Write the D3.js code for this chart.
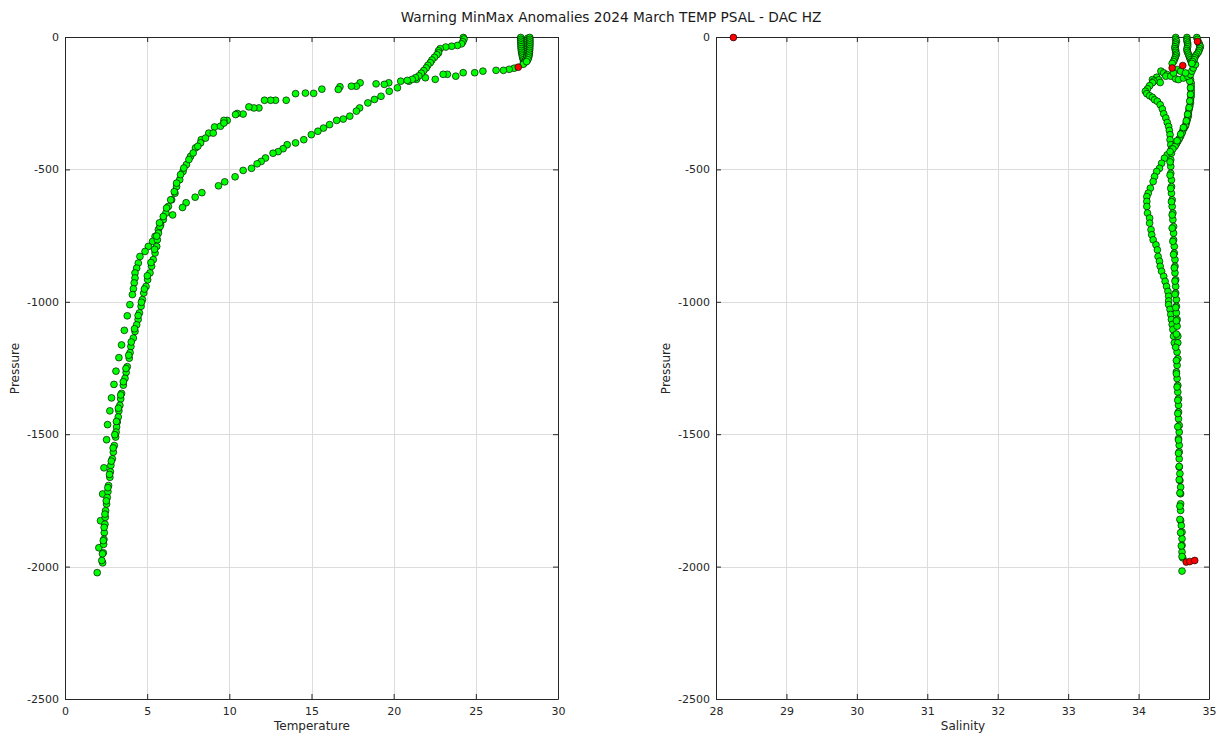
<!DOCTYPE html>
<html><head><meta charset="utf-8">
<script src="https://cdn.jsdelivr.net/npm/d3@7"></script>
<style>
html,body{margin:0;padding:0;background:#fff;}
svg{display:block;font-family:"DejaVu Sans",sans-serif;}
</style></head><body>
<svg id="chart" width="1222" height="734"></svg>
<script>
// ---------------- text ----------------
const titleText = "Warning MinMax Anomalies 2024 March TEMP PSAL - DAC HZ";
const tempXTicks = [0, 5, 10, 15, 20, 25, 30];
const salXTicks = [28, 29, 30, 31, 32, 33, 34, 35];
const presTicks = [0, -500, -1000, -1500, -2000, -2500];

// ---------------- temperature tracks ----------------
const tSurf1P = [0,-7,-14,-21,-28,-35,-42,-49,-56,-63,-70,-77,-84,-91,-98];
const tSurf1T = [27.70,27.70,27.71,27.71,27.72,27.72,27.73,27.74,27.76,27.78,27.80,27.83,27.86,27.88,27.86];
const tSurf2P = [-3,-10,-17,-24,-31,-38,-45,-52,-59,-66,-73,-80,-87,-94,-101];
const tSurf2T = [28.12,28.12,28.12,28.13,28.13,28.13,28.12,28.12,28.11,28.10,28.07,28.04,28.00,27.95,27.86];
const tSurf3P = [0,-7,-14,-21,-28,-35,-42,-49,-56,-63,-70,-77,-84,-91];
const tSurf3T = [28.25,28.26,28.26,28.26,28.26,28.25,28.25,28.24,28.23,28.22,28.20,28.17,28.13,28.06];

const tShelfP = [-116,-120,-124,-124,-127,-133,-133,-139,-139,-146,-152,-158,-158,-165,-165];
const tShelfT = [27.30,27.00,26.65,26.20,25.40,24.90,24.20,23.24,22.98,23.75,21.90,22.50,21.36,20.90,20.40];

const tWarmP = [0,-6,-16,-24,-30,-33,-36,-42,-50,-58,-65,-75,-85,-95,-105,-115,-125,-135,-145,-152,-158,-162];
const tWarmT = [24.21,24.25,24.18,24.10,23.85,23.50,23.14,22.80,22.70,22.70,22.60,22.45,22.30,22.20,22.05,21.95,21.80,21.65,21.50,21.30,21.10,20.80];

const tUpperP = [-171,-177,-175,-171,-184,-184,-186,-196,-195,-211,-210,-212,-237,-237,-237,-237,-266,-266,-262,-289,-287,-291,-313,-313,-323];
const tUpperT = [19.67,19.40,18.90,17.93,17.70,17.40,16.70,16.60,15.60,15.10,14.60,14.00,13.43,12.78,12.48,12.11,11.77,11.46,11.16,10.81,10.45,10.35,9.84,9.64,9.64];

const tLowerP = [-190,-203,-222,-234,-247,-266,-278,-297,-308,-313,-329,-342,-354,-367,-386,-398,-405,-420,-431,-437,-455,-468,-477,-494,-502,-526,-545,-560,-586,-603,-624,-642,-670];
const tLowerT = [20.20,19.70,19.20,18.80,18.40,17.90,17.70,17.30,16.90,16.50,16.07,15.70,15.36,14.96,14.50,14.00,13.49,13.24,12.94,12.63,12.17,11.91,11.66,11.32,10.81,10.32,9.69,9.31,8.30,7.89,7.34,7.12,6.52];

const tDeepLP = [-338,-361,-386,-417,-449,-480,-506,-537,-563,-588,-613,-638,-663,-688,-707,-726,-751,-770,-789,-808,-827,-852,-871,-889,-908,-927,-949,-971,-1009,-1051,-1106,-1161,-1209,-1260,-1310,-1361,-1410,-1462,-1519,-1625,-1724,-1825,-1927,-2021];
const tDeepLT = [9.07,8.72,8.26,7.91,7.61,7.36,7.15,6.95,6.76,6.66,6.46,6.26,6.11,5.95,5.79,5.65,5.45,5.30,5.04,4.84,4.53,4.43,4.33,4.23,4.23,4.18,4.13,4.07,3.92,3.76,3.58,3.41,3.25,3.07,2.95,2.80,2.70,2.56,2.50,2.34,2.26,2.13,2.03,1.93];

const tDeepRP = [-335,-361,-380,-398,-411,-436,-461,-493,-518,-550,-582,-613,-644,-676,-714,-739,-764,-789,-814,-839,-864,-889,-915,-940,-965,-990,-1015,-1040,-1065,-1085,-1110,-1135,-1167,-1190,-1211,-1243,-1265,-1287,-1313,-1344,-1365,-1389,-1410,-1433,-1452,-1471,-1490,-1509,-1541,-1566,-1591,-1616,-1640,-1661,-1692,-1715,-1737,-1762,-1787,-1812,-1838,-1870,-1895,-1914,-1946,-1984];
const tDeepRT = [9.43,8.99,8.52,8.22,8.05,7.77,7.51,7.20,7.00,6.76,6.62,6.40,6.15,5.95,5.75,5.65,5.59,5.55,5.45,5.34,5.24,5.14,5.00,4.90,4.76,4.68,4.60,4.50,4.42,4.33,4.23,4.13,3.98,3.93,3.88,3.76,3.69,3.62,3.52,3.41,3.36,3.31,3.25,3.21,3.15,3.11,3.08,3.05,2.97,2.91,2.85,2.76,2.73,2.70,2.62,2.58,2.54,2.50,2.44,2.42,2.40,2.36,2.34,2.32,2.30,2.26];

const tDeepR2P = [-700,-750,-800,-850,-900,-950,-1000,-1050,-1100,-1150,-1200,-1250,-1300,-1350,-1400,-1450,-1500,-1550,-1600,-1650,-1700,-1750,-1800,-1850,-1900,-1950,-1975];
const tDeepR2T = [5.72,5.55,5.42,5.20,4.98,4.80,4.62,4.42,4.20,4.00,3.85,3.68,3.52,3.36,3.22,3.10,3.00,2.90,2.79,2.68,2.58,2.48,2.40,2.35,2.30,2.25,2.21];

const tFlagP = [-112];
const tFlagT = [27.55];

// ---------------- salinity tracks ----------------
const sSurf1P = [0,-7,-14,-21,-28,-35,-42,-49,-56,-63,-70,-77,-84,-91,-98];
const sSurf1S = [34.52,34.52,34.53,34.52,34.52,34.51,34.51,34.52,34.52,34.53,34.52,34.51,34.50,34.49,34.47];
const sSurf2P = [0,-7,-14,-21,-28,-35,-42,-49,-56,-63,-70,-77,-84,-91,-98];
const sSurf2S = [34.68,34.68,34.68,34.69,34.69,34.69,34.68,34.68,34.69,34.70,34.71,34.72,34.73,34.74,34.75];
const sSurf3P = [0,-7,-21,-28,-35,-42,-49,-56,-63,-70,-77,-84,-91,-98];
const sSurf3S = [34.82,34.83,34.85,34.86,34.87,34.86,34.85,34.84,34.82,34.80,34.79,34.78,34.76,34.75];

const sClusterP = [-127,-134,-140,-146,-146,-156,-159,-153,-146,-140,-127,-115,-102,-121,-127,-134,-134];
const sClusterS = [34.31,34.35,34.40,34.38,34.45,34.52,34.56,34.63,34.69,34.73,34.75,34.77,34.80,34.54,34.59,34.66,34.49];

const sHookP = [-150,-160,-170,-159,-165,-171,-182,-194,-203,-212,-220,-226,-235,-241,-254,-270,-288,-304,-321,-336,-351,-367,-386,-405,-421];
const sHookS = [34.25,34.28,34.30,34.19,34.21,34.19,34.15,34.12,34.09,34.11,34.15,34.19,34.22,34.26,34.30,34.33,34.35,34.38,34.40,34.42,34.43,34.44,34.44,34.45,34.46];

const sUpperP = [-159,-172,-184,-197,-209,-222,-235,-247,-260,-272,-285,-295,-304,-314,-323,-333,-342,-352,-361,-373,-383,-392,-402,-411,-421,-431];
const sUpperS = [34.73,34.74,34.74,34.74,34.74,34.74,34.73,34.73,34.72,34.71,34.70,34.70,34.69,34.68,34.67,34.66,34.64,34.62,34.61,34.59,34.57,34.55,34.53,34.51,34.48,34.44];
const sUpper2P = [-165,-190,-215,-240,-265,-290,-315,-340,-365,-390];
const sUpper2S = [34.72,34.73,34.73,34.72,34.71,34.69,34.67,34.63,34.59,34.54];

const sBulgeP = [-443,-456,-475,-494,-506,-525,-544,-569,-588,-601,-619,-638,-663,-682,-701,-726,-745,-764,-783,-802,-827,-845,-864,-883,-902,-921,-940,-959,-977,-995,-1009,-1027,-1046,-1065,-1084,-1103,-1128,-1153];
const sBulgeS = [34.40,34.36,34.32,34.29,34.25,34.22,34.20,34.16,34.13,34.11,34.11,34.11,34.12,34.15,34.15,34.17,34.18,34.20,34.24,34.26,34.27,34.29,34.30,34.32,34.35,34.37,34.39,34.41,34.42,34.42,34.42,34.44,34.45,34.46,34.47,34.48,34.49,34.50];

const sVertP = [-437,-462,-487,-513,-538,-563,-588,-613,-638,-663,-688,-714,-739,-764,-789,-814,-839,-864,-889,-915,-940,-965,-990,-1015,-1040,-1065,-1090,-1128,-1153,-1188,-1213,-1238,-1263,-1288,-1314,-1339,-1364,-1389,-1414,-1440,-1465,-1490,-1515,-1540,-1565,-1591,-1622,-1647,-1673,-1698,-1723,-1761,-1786,-1824,-1843,-1868,-1893,-1918,-1943,-1965,-2015];
const sVertS = [34.46,34.45,34.45,34.45,34.46,34.46,34.46,34.47,34.47,34.48,34.48,34.49,34.49,34.49,34.50,34.50,34.51,34.51,34.51,34.52,34.52,34.52,34.53,34.53,34.53,34.54,34.54,34.55,34.55,34.54,34.55,34.54,34.53,34.54,34.55,34.55,34.56,34.56,34.56,34.56,34.57,34.57,34.56,34.57,34.57,34.57,34.57,34.58,34.58,34.59,34.59,34.59,34.59,34.59,34.60,34.61,34.61,34.61,34.61,34.62,34.61];
const sVert2P = [-470,-520,-570,-620,-670,-720,-770,-820,-870,-920,-970,-1020,-1070,-1120,-1170,-1220,-1270,-1320,-1370,-1420,-1470,-1520,-1570,-1620,-1670,-1720,-1770,-1820,-1870,-1920,-1960];
const sVert2S = [34.44,34.44,34.45,34.46,34.47,34.47,34.48,34.49,34.50,34.51,34.51,34.52,34.53,34.53,34.52,34.53,34.53,34.54,34.55,34.55,34.55,34.56,34.56,34.57,34.57,34.58,34.58,34.58,34.59,34.60,34.61];

const sFlagP = [0,-15,-115,-106,-1981,-1979,-1975];
const sFlagS = [28.24,34.83,34.47,34.62,34.67,34.72,34.79];

// ---------------- drawing ----------------
const svg = d3.select('#chart');
const INK = '#262626';
const GRID = '#dcdcdc';
const R = 3.4;
const SW = 0.65;
svg.append('rect').attr('width',1222).attr('height',734).attr('fill','#fff');

svg.append('text').attr('x',611).attr('y',22).attr('text-anchor','middle')
  .attr('font-size',13.7).attr('fill','#1a1a1a').text(titleText);

function zip(P, V) {
  const n = Math.min(P.length, V.length);
  const out = [];
  for (let i = 0; i < n; i++) out.push({p: P[i], v: V[i]});
  return out;
}

function panel(o) {
  const x = d3.scaleLinear().domain(o.domain).range([o.x0, o.x1]);
  const y = d3.scaleLinear().domain([-2500, 0]).range([699, 37]);
  const g = svg.append('g');

  // grid
  g.selectAll('line.vg').data(o.xticks.slice(1, -1)).enter().append('line')
    .attr('x1', d => Math.round(x(d)) + 0.5).attr('x2', d => Math.round(x(d)) + 0.5)
    .attr('y1', 37.5).attr('y2', 699.5).attr('stroke', GRID).attr('stroke-width', 1);
  g.selectAll('line.hg').data(presTicks.slice(1, -1)).enter().append('line')
    .attr('y1', d => Math.round(y(d)) + 0.5).attr('y2', d => Math.round(y(d)) + 0.5)
    .attr('x1', o.x0 + 0.5).attr('x2', o.x1 + 0.5).attr('stroke', GRID).attr('stroke-width', 1);

  // axes (ticks inward)
  const fmt = d => String(d);
  const bottom = g.append('g').attr('transform', `translate(0,699)`)
    .call(d3.axisBottom(x).tickValues(o.xticks).tickSizeInner(-5).tickSizeOuter(0).tickPadding(8).tickFormat(fmt));
  const top = g.append('g').attr('transform', `translate(0,37)`)
    .call(d3.axisTop(x).tickValues(o.xticks).tickSizeInner(-5).tickSizeOuter(0).tickFormat(''));
  const left = g.append('g').attr('transform', `translate(${o.x0},0)`)
    .call(d3.axisLeft(y).tickValues(presTicks).tickSizeInner(-5).tickSizeOuter(0).tickPadding(6).tickFormat(fmt));
  const right = g.append('g').attr('transform', `translate(${o.x1},0)`)
    .call(d3.axisRight(y).tickValues(presTicks).tickSizeInner(-5).tickSizeOuter(0).tickFormat(''));
  [bottom, top, left, right].forEach(a => {
    a.select('.domain').attr('stroke', INK);
    a.selectAll('.tick line').attr('stroke', INK);
    a.selectAll('.tick text').attr('fill', INK).attr('font-size', 11)
      .attr('font-family', '"DejaVu Sans",sans-serif');
  });

  // labels
  g.append('text').attr('x', (o.x0 + o.x1) / 2 + 0.5).attr('y', 730).attr('text-anchor', 'middle')
    .attr('font-size', 12).attr('fill', INK).text(o.xlabel);
  g.append('text').attr('transform', `translate(${o.x0 - 46.5},368.5) rotate(-90)`)
    .attr('text-anchor', 'middle').attr('font-size', 12).attr('fill', INK).text('Pressure');

  // points
  const pts = g.append('g');
  o.tracks.forEach(t => {
    pts.selectAll(null).data(zip(t[0], t[1])).enter().append('circle')
      .attr('cx', d => x(d.v) + 0.5).attr('cy', d => y(d.p) + 0.5).attr('r', R)
      .attr('fill', '#00ff00').attr('stroke', '#000').attr('stroke-width', SW);
  });
  pts.selectAll(null).data(zip(o.flags[0], o.flags[1])).enter().append('circle')
    .attr('cx', d => x(d.v) + 0.5).attr('cy', d => y(d.p) + 0.5).attr('r', R)
    .attr('fill', '#ff0000').attr('stroke', '#000').attr('stroke-width', SW);
}

panel({
  x0: 65, x1: 558, domain: [0, 30], xticks: tempXTicks, xlabel: 'Temperature',
  tracks: [[tDeepLP,tDeepLT],[tDeepRP,tDeepRT],[tDeepR2P,tDeepR2T],[tLowerP,tLowerT],[tUpperP,tUpperT],
           [tShelfP,tShelfT],[tWarmP,tWarmT],[tSurf1P,tSurf1T],[tSurf2P,tSurf2T],[tSurf3P,tSurf3T]],
  flags: [tFlagP, tFlagT]
});
panel({
  x0: 716, x1: 1209, domain: [28, 35], xticks: salXTicks, xlabel: 'Salinity',
  tracks: [[sBulgeP,sBulgeS],[sVertP,sVertS],[sVert2P,sVert2S],[sHookP,sHookS],[sUpperP,sUpperS],[sUpper2P,sUpper2S],
           [sClusterP,sClusterS],[sSurf1P,sSurf1S],[sSurf2P,sSurf2S],[sSurf3P,sSurf3S]],
  flags: [sFlagP, sFlagS]
});
</script>
</body></html>
